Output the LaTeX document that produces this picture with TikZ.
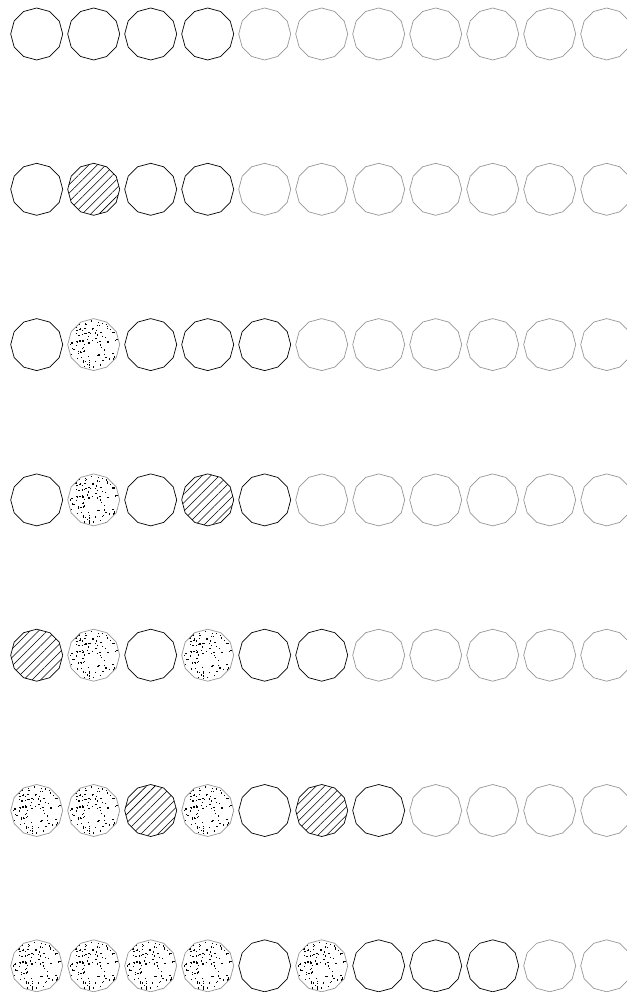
\documentclass[tikz,border=0pt]{standalone}
\usetikzlibrary{shapes.geometric,patterns.meta}
\definecolor{FadeGray}{RGB}{150, 150, 150}

\tikzset{
  cell/.style={regular polygon, regular polygon sides=12, shape border rotate=15,
    minimum size=52pt, inner sep=0pt, line width=0.7pt},
  emptycell/.style={cell, draw=black},
  fadecell/.style={cell, draw=FadeGray},
  hatchcell/.style={cell, draw=black,
    pattern={Lines[angle=45, distance=6pt, line width=0.6pt]}},
  speckcell/.style={cell, draw=FadeGray,
    path picture={
      \pgfmathsetseed{123}
      \foreach \i in {1,...,130} {
        \fill (path picture bounding box.center) ++(rand*25pt, rand*25pt)
          rectangle ++(0.8pt+0.8pt*rnd, 0.8pt+0.8pt*rnd);
      }
    }},
}

\begin{document}
\begin{tikzpicture}[x=1pt, y=1pt]
  \useasboundingbox (0, 0) rectangle (626, -992);
  % one row per step, eleven cells per row
  \foreach \r/\cells in {
    0/{emptycell,emptycell,emptycell,emptycell,fadecell,fadecell,fadecell,fadecell,fadecell,fadecell,fadecell},
    1/{emptycell,hatchcell,emptycell,emptycell,fadecell,fadecell,fadecell,fadecell,fadecell,fadecell,fadecell},
    2/{emptycell,speckcell,emptycell,emptycell,emptycell,fadecell,fadecell,fadecell,fadecell,fadecell,fadecell},
    3/{emptycell,speckcell,emptycell,hatchcell,emptycell,fadecell,fadecell,fadecell,fadecell,fadecell,fadecell},
    4/{hatchcell,speckcell,emptycell,speckcell,emptycell,emptycell,fadecell,fadecell,fadecell,fadecell,fadecell},
    5/{speckcell,speckcell,hatchcell,speckcell,emptycell,hatchcell,emptycell,fadecell,fadecell,fadecell,fadecell},
    6/{speckcell,speckcell,speckcell,speckcell,emptycell,speckcell,emptycell,emptycell,emptycell,fadecell,fadecell}} {
    \foreach \s [count=\k from 0] in \cells {
      \node[\s] (c-\r-\k) at (36.7 + 57*\k, -34 - 155.3*\r) {};
    }
  }
\end{tikzpicture}
\end{document}
